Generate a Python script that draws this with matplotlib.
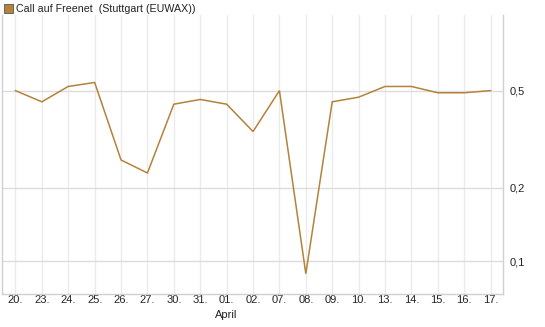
import numpy as np
import matplotlib
matplotlib.use('Agg')
import matplotlib.pyplot as plt

plt.rcParams['font.family'] = ['Liberation Sans', 'DejaVu Sans']

days = ['20.', '23.', '24.', '25.', '26.', '27.', '30.', '31.', '01.', '02.',
        '07.', '08.', '09.', '10.', '13.', '14.', '15.', '16.', '17.']
prices = [0.50, 0.45, 0.52, 0.54, 0.26, 0.23, 0.44, 0.46, 0.44, 0.34,
          0.50, 0.089, 0.45, 0.47, 0.52, 0.52, 0.49, 0.49, 0.50]
yticks = [0.1, 0.2, 0.5]
ylabels = ['0,1', '0,2', '0,5']
month_label = 'April'
month_at = 8
legend_text = 'Call auf Freenet  (Stuttgart (EUWAX))'

line_col = '#b5823a'

fig = plt.figure(figsize=(5.45, 3.27), dpi=100)
W, H = 545, 327
ax = fig.add_axes([2 / W, (H - 294) / H, 501 / W, 279 / H])

x = np.arange(len(days))
ax.plot(x, prices, color=line_col, lw=1.1, solid_joinstyle='miter')

ax.set_yscale('log')
ax.set_ylim(0.0735, 1.02)
ax.set_xlim(-0.51, len(days) - 1 + 0.47)

ax.set_yticks(yticks)
ax.set_yticklabels(ylabels)
ax.yaxis.set_minor_locator(matplotlib.ticker.NullLocator())
ax.yaxis.tick_right()
ax.set_xticks(x)
ax.set_xticklabels(days)
ax.tick_params(axis='both', length=0, labelsize=8, colors='#222222')
ax.tick_params(axis='y', pad=5)
ax.tick_params(axis='x', pad=1)

for xi in x:
    ax.axvline(xi, color='#ebebeb', lw=1, zorder=0)
for yv in yticks:
    ax.axhline(yv, color='#dcdcdc', lw=1, zorder=0)

for side in ['left', 'right', 'bottom']:
    ax.spines[side].set_color('#d0d0d0')
    ax.spines[side].set_linewidth(1)
ax.spines['top'].set_visible(False)

fig.text((15.5 + month_at * 26.35) / W, 1 - 315 / H, month_label,
         ha='center', va='center', fontsize=8, color='#222222')

# legend box
fig.patches.append(matplotlib.patches.Rectangle((4 / W, 1 - 13 / H), 9 / W, 9 / H,
                   transform=fig.transFigure, facecolor=line_col,
                   edgecolor='#555555', lw=0.6))
fig.text(16 / W, 1 - 8.5 / H, legend_text, ha='left', va='center',
         fontsize=7.7, color='#222222')

fig.savefig('out.png', dpi=100)
